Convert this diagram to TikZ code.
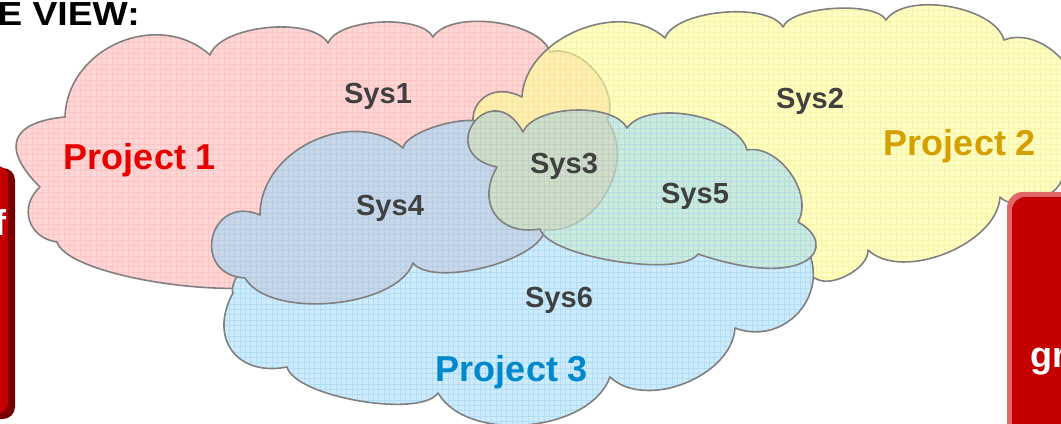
\documentclass[tikz,border=0pt]{standalone}
\usepackage{fontspec}
\setmainfont{Liberation Sans}
\definecolor{pinkfill}{HTML}{FFD6D6}
\definecolor{pinkgrid}{HTML}{FFC4C4}
\definecolor{yelfill}{HTML}{FFFF9C}
\definecolor{yelgrid}{HTML}{EEE888}
\definecolor{bluefill}{HTML}{CDEBFB}
\definecolor{bluegrid}{HTML}{B2DDF7}
\definecolor{grayblue}{HTML}{C9D6E8}
\definecolor{graybluegrid}{HTML}{B4CEE8}
\definecolor{mint}{HTML}{CDEBDB}
\definecolor{mintgrid}{HTML}{B4DDE2}
\definecolor{olive}{HTML}{D0DDC8}
\definecolor{olivegrid}{HTML}{BDD2C4}
\definecolor{edge}{HTML}{808080}
\definecolor{labgray}{HTML}{404040}
\definecolor{p1red}{HTML}{E60000}
\definecolor{p2gold}{HTML}{D4A000}
\definecolor{p3blue}{HTML}{0088CC}
\definecolor{boxred}{HTML}{C40000}
\definecolor{boxdark}{HTML}{780000}
\definecolor{boxlight}{HTML}{E06868}
\tikzset{
  lb/.style={out=65,in=115,relative,looseness=#1},
  outline/.style={draw=edge,line width=1.2pt,line join=round},
  gridlines/.style={line width=0.35pt},
  syslbl/.style={text=labgray,font=\fontsize{21.8}{24}\selectfont\bfseries,inner sep=0pt},
  projlbl/.style={font=\fontsize{27}{30}\selectfont\bfseries,inner sep=0pt},
  boxtxt/.style={text=white,font=\fontsize{27}{30}\selectfont\bfseries,inner sep=0pt}
}
% cloud outlines (pixel coordinates, y pointing down)
\newcommand\cloudA{(65,117) to[lb=1.13] (210,55) to[lb=.68] (328,43) to[lb=.64] (433,37)
  to[lb=.71] (550,52) to[lb=.94] (607,120) to[lb=1.05] (545,230) to[lb=.4] (300,272)
  to[lb=.43] (57,242) to[lb=1.3] (40,187) to[lb=1.9] (65,117) -- cycle}
\newcommand\cloudB{(522,97) to[lb=.98] (665,38) to[lb=.64] (783,27) to[lb=.55] (886,20)
  to[lb=.75] (1004,40) to[lb=1] (1075,108) to[lb=1] (1062,178) to[lb=.8] (1000,197)
  to[lb=.85] (868,250) to[lb=.8] (815,278) to[lb=.3] (495,150)
  to[out=90,in=90,relative,looseness=2.1] (522,97) -- cycle}
\newcommand\cloudC{(250,262) to[lb=.3] (540,205) to[lb=.3] (810,255) to[lb=1.2] (735,328)
  to[lb=.93] (610,377) to[lb=.87] (438,393) to[lb=.52] (287,367) to[lb=1.43] (233,293)
  to[lb=.5] (250,262) -- cycle}
\newcommand\cloudD{(260,215) to[lb=1.06] (403,148) to[lb=.53] (485,125) -- (530,170) -- (545,230)
  to[lb=.6] (413,263) to[lb=.73] (245,278) to[out=100,in=80,relative,looseness=2.2] (260,215) -- cycle}
\newcommand\cloudE{(523,132) to[lb=.72] (627,128) to[lb=.75] (747,150) to[lb=.94] (798,222)
  .. controls (840,245) and (810,292) .. (698,254) to[lb=.47] (540,229) to[lb=1.43] (497,167)
  to[out=115,in=65,relative,looseness=3.9] (523,132) -- cycle}
\newcommand\gridall[1]{\draw[gridlines,#1] (-10,-10) grid[step=4pt] (1080,440);}
\begin{document}
\begin{tikzpicture}[x=0.75pt,y=-0.75pt]
\useasboundingbox (0,0) rectangle (1061,424);
\fill[white] (0,0) rectangle (1061,424);
% Project 1
\fill[pinkfill] \cloudA;
\begin{scope}\clip \cloudA; \gridall{pinkgrid}\end{scope}
\draw[outline] \cloudA;
% Project 2
\fill[yelfill,fill opacity=.6] \cloudB;
\begin{scope}\clip \cloudB; \gridall{yelgrid,draw opacity=.4}\end{scope}
\draw[outline] \cloudB;
% Project 3
\fill[bluefill] \cloudC;
\begin{scope}\clip \cloudC; \gridall{bluegrid}\end{scope}
\draw[outline] \cloudC;
% Sys4 cloud
\fill[grayblue] \cloudD;
\begin{scope}\clip \cloudD; \gridall{graybluegrid}\end{scope}
\draw[outline] \cloudD;
% Sys5 cloud, with the part shared with Project 1 (Sys3)
\fill[mint] \cloudE;
\begin{scope}\clip \cloudE; \gridall{mintgrid}\end{scope}
\begin{scope}\clip \cloudE; \clip \cloudA;
  \fill[olive] (0,0) rectangle (1061,424); \gridall{olivegrid}\end{scope}
\begin{scope}\clip \cloudE; \draw[outline,draw opacity=.3] \cloudA;\end{scope}
\draw[outline] \cloudE;
% labels
\node[syslbl] (s1) at (378,96) {Sys1};
\node[syslbl] (s2) at (810,101) {Sys2};
\node[syslbl] (s3) at (564,166) {Sys3};
\node[syslbl] (s4) at (390,208) {Sys4};
\node[syslbl] (s5) at (695,196) {Sys5};
\node[syslbl] (s6) at (559,300) {Sys6};
\node[projlbl,text=p1red] (p1) at (140,160) {Project 1};
\node[projlbl,text=p2gold] (p2) at (960,146) {Project 2};
\node[projlbl,text=p3blue] (p3) at (512,372) {Project 3};
% side panels
\fill[boxdark,rounded corners=9pt] (-40,168) rectangle (15,419);
\fill[boxred,rounded corners=8pt] (-40,166) rectangle (8,414);
\node[boxtxt,anchor=base east] (lt) at (7,236) {f};
\fill[boxlight,rounded corners=12pt] (1007,192) rectangle (1100,450);
\fill[boxred,rounded corners=10pt] (1012,197) rectangle (1100,450);
\node[boxtxt,anchor=base west] (rt) at (1030,367) {gr};
% heading
\node[anchor=base west,inner sep=0pt,font=\fontsize{25}{28}\selectfont\bfseries,xscale=1.12] (hd) at (-3,26) {E VIEW:};
\end{tikzpicture}
\end{document}
